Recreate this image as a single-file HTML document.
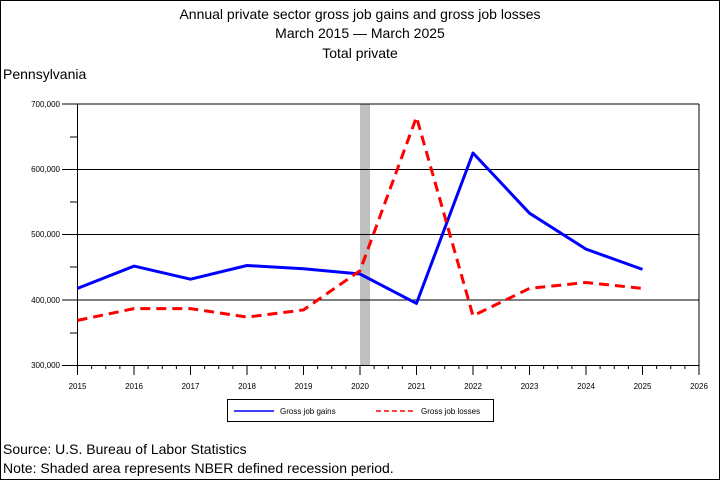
<!DOCTYPE html>
<html><head><style>
body{margin:0;background:#fff}
svg{display:block;font-family:"Liberation Sans",sans-serif}
</style></head><body>
<svg width="720" height="480" viewBox="0 0 720 480">
<rect x="0.5" y="0.5" width="719" height="479" fill="#fff" stroke="#000"/>
<g font-size="14" text-anchor="middle">
<text x="360" y="19">Annual private sector gross job gains and gross job losses</text>
<text x="360" y="38">March 2015 — March 2025</text>
<text x="360" y="58">Total private</text>
</g>
<text x="3" y="79" font-size="14">Pennsylvania</text>
<rect x="360" y="104" width="10" height="261.5" fill="#c0c0c0"/>
<g stroke="#000" stroke-width="1">
<line x1="62" y1="104" x2="699" y2="104"/>
<line x1="62" y1="169.5" x2="699" y2="169.5"/>
<line x1="62" y1="234.5" x2="699" y2="234.5"/>
<line x1="62" y1="300" x2="699" y2="300"/>
<line x1="62" y1="365.5" x2="699" y2="365.5"/>
<line x1="77.5" y1="104" x2="77.5" y2="375"/>
<line x1="699" y1="104" x2="699" y2="375"/>
<line x1="70" y1="137" x2="77.5" y2="137"/>
<line x1="70" y1="202" x2="77.5" y2="202"/>
<line x1="70" y1="267" x2="77.5" y2="267"/>
<line x1="70" y1="333" x2="77.5" y2="333"/>
</g>
<g stroke="#000" id="xt"></g>
<g font-size="8" text-anchor="end">
<text x="60" y="107">700,000</text>
<text x="60" y="172">600,000</text>
<text x="60" y="237">500,000</text>
<text x="60" y="303">400,000</text>
<text x="60" y="368">300,000</text>
</g>
<g font-size="8" text-anchor="middle" id="xl"></g>
<polyline fill="none" stroke="#00f" stroke-width="3" stroke-linejoin="round" points="77.5,288.4 134,266.1 190.5,279.2 247,265.5 303.5,268.7 360,274 416.5,303.4 473,153 529.5,213.2 586,249.1 642.5,269.4"/>
<polyline fill="none" stroke="#f00" stroke-width="3" stroke-dasharray="10,6" points="77.5,320.4 134,308.6 190.5,308.6 247,317.1 303.5,309.9 360,270.7 416.5,117.1 473,315.8 529.5,288.4 586,282.5 642.5,288.4"/>
<rect x="227.5" y="399.5" width="266" height="22" fill="#fff" stroke="#000"/>
<line x1="234" y1="411" x2="274" y2="411" stroke="#00f" stroke-width="1.5"/>
<text x="280" y="414" font-size="8">Gross job gains</text>
<line x1="376" y1="411" x2="416" y2="411" stroke="#f00" stroke-width="1.5" stroke-dasharray="5,3"/>
<text x="421" y="414" font-size="8">Gross job losses</text>
<text x="3" y="454" font-size="14">Source: U.S. Bureau of Labor Statistics</text>
<text x="3" y="473" font-size="14">Note: Shaded area represents NBER defined recession period.</text>
</svg>
<script>
var t=document.getElementById('xt'),l=document.getElementById('xl'),s='';
for(var i=0;i<=11;i++){var x=77.5+56.5*i;s+='<line x1="'+x+'" y1="365.5" x2="'+x+'" y2="375"/>';
if(i<11)for(var q=1;q<4;q++){var xq=x+56.5*q/4;s+='<line x1="'+xq+'" y1="365.5" x2="'+xq+'" y2="369"/>';}
l.innerHTML+='<text x="'+x+'" y="389">'+(2015+i)+'</text>';}
t.innerHTML=s;
</script>
</body></html>
